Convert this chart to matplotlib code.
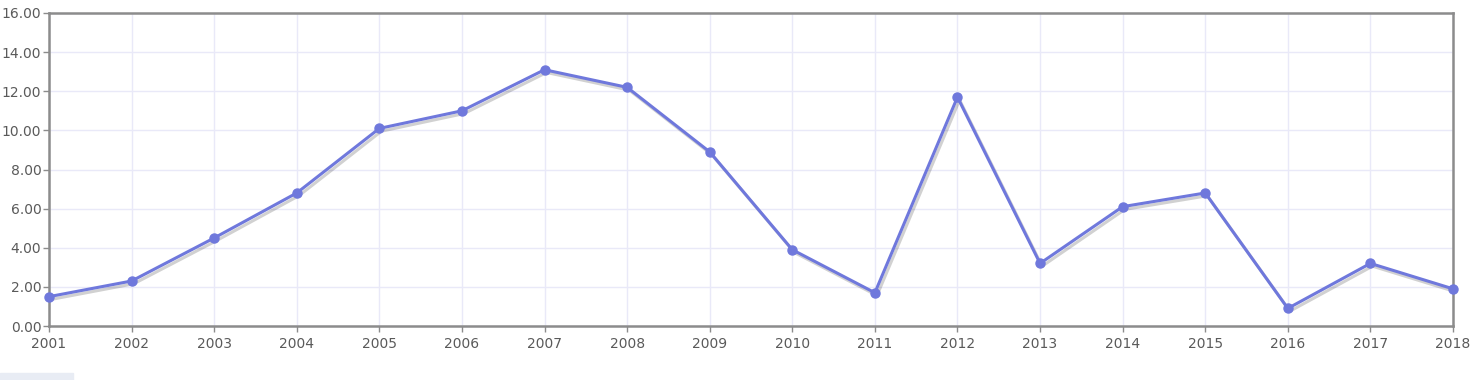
import matplotlib
matplotlib.use("Agg")
import matplotlib.pyplot as plt
import matplotlib.patheffects as pe
from matplotlib.patches import Rectangle

years = list(range(2001, 2019))
values = [1.5, 2.3, 4.5, 6.8, 10.1, 11.0, 13.1, 12.2, 8.9, 3.9,
          1.7, 11.7, 3.2, 6.1, 6.8, 0.9, 3.2, 1.9]
yticks = [0, 2, 4, 6, 8, 10, 12, 14, 16]

C_LINE = "#6f78dc"
C_GRID = "#e9e9f8"
C_AXIS = "#8c8c8c"
C_TEXT = "#5a5a5a"

fig = plt.figure(figsize=(14.79, 3.80), dpi=100)
ax = fig.add_axes([49/1479, 54/380, (1453-49)/1479, (326-13)/380])

# line with soft drop shadow, markers drawn on top without shadow
ax.plot(years, values, "-", color=C_LINE, lw=2.2, clip_on=False, zorder=3,
        path_effects=[pe.SimpleLineShadow(offset=(1.5, -2), shadow_color="#000000",
                                          alpha=0.18),
                      pe.Normal()])
ax.plot(years, values, "o", color=C_LINE, markersize=6.5, clip_on=False, zorder=4)

ax.set_xlim(2001, 2018)
ax.set_ylim(0, 16)
ax.set_xticks(years)
ax.set_yticks(yticks)
ax.set_yticklabels([f"{v:.2f}" for v in yticks])
ax.grid(True, color=C_GRID, lw=1)
ax.set_axisbelow(True)
for s in ax.spines.values():
    s.set_color(C_AXIS)
    s.set_linewidth(1.8)
ax.tick_params(axis="both", colors=C_AXIS, labelcolor=C_TEXT, labelsize=10,
               length=4, width=1)
ax.tick_params(axis="x", pad=4)
ax.tick_params(axis="y", pad=1.5)

# faint scrollbar remnant bottom-left
fig.patches.append(Rectangle((0, 0), 73/1479, 7/380, transform=fig.transFigure,
                             color="#e8ecf4", zorder=0))

fig.savefig("out.png", dpi=100)
